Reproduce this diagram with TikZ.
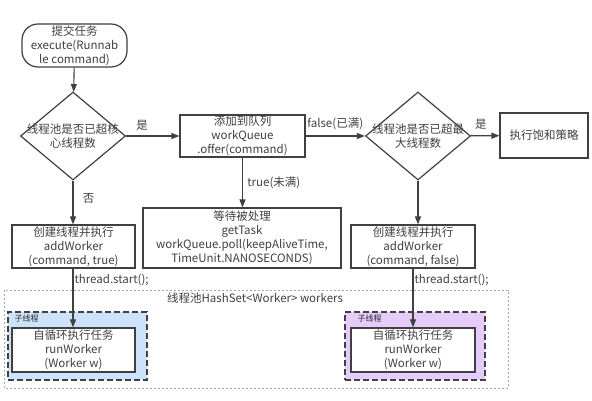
\documentclass[tikz,border=0pt]{standalone}
\usepackage{fontspec}
\setmainfont{Noto Sans CJK SC}
\usetikzlibrary{shapes.geometric,arrows.meta}

\definecolor{linegray}{HTML}{404040}
\definecolor{subblue}{HTML}{CCE3FB}
\definecolor{subpurple}{HTML}{E5CCFA}

\tikzset{
  box/.style={draw=linegray, line width=1.2pt, fill=white, align=center, inner sep=0pt},
  decision/.style={diamond, draw=linegray, line width=1.2pt, fill=white, inner sep=0pt},
  flow/.style={-{Triangle[length=8pt,width=6pt]}, draw=linegray, line width=1.1pt},
  group/.style={draw=linegray, dash pattern=on 6pt off 3pt, line width=1.7pt, inner sep=0pt},
  small/.style={font=\fontsize{8}{9}\selectfont, text=black!85}
}

\begin{document}
\begin{tikzpicture}[x=1pt,y=-1pt, font=\fontsize{11.5}{14}\selectfont, text=black!75]
\useasboundingbox (0,0) rectangle (592,401);

% thread pool set
\draw[draw=gray!70, dash pattern=on 2pt off 2pt, line width=0.8pt] (4,290) rectangle (508,388);
\node (pool) at (255,298) {线程池HashSet<Worker> workers};

% sub threads
\node[group, fill=subblue, minimum width=139pt, minimum height=68pt] (grp1) at (77.5,346) {};
\node[small, anchor=west] at (11,318) {子线程};
\node[group, fill=subpurple, minimum width=140pt, minimum height=68pt] (grp2) at (415,346) {};
\node[small, anchor=west] at (354,318) {子线程};

% main flow
\node[box, rounded corners=16pt, minimum width=105pt, minimum height=43pt] (submit) at (74.5,45.5)
  {提交任务\\execute(Runnab\\le command)};
\node[decision, minimum width=105pt, minimum height=88pt,
  label={[align=center]center:线程池是否已超核\\心线程数}] (core) at (73,136) {};
\node[box, minimum width=125pt, minimum height=42pt] (queue) at (242.5,136)
  {添加到队列\\workQueue\\.offer(command)};
\node[decision, minimum width=105pt, minimum height=88pt,
  label={[align=center]center:线程池是否已超最\\大线程数}] (max) at (418,136) {};
\node[box, minimum width=88pt, minimum height=45pt] (reject) at (544,135.5) {执行饱和策略};
\node[box, minimum width=198pt, minimum height=60pt] (wait) at (242,238)
  {等待被处理\\getTask\\workQueue.poll(keepAliveTime,\\TimeUnit.NANOSECONDS)};
\node[box, minimum width=123pt, minimum height=43pt] (add1) at (73.5,246.5)
  {创建线程并执行\\addWorker\\(command, true)};
\node[box, minimum width=124pt, minimum height=43pt] (add2) at (413,246.5)
  {创建线程并执行\\addWorker\\(command, false)};
\node[box, minimum width=123pt, minimum height=44pt] (run1) at (73.5,350)
  {自循环执行任务\\runWorker\\(Worker w)};
\node[box, minimum width=124pt, minimum height=44pt] (run2) at (413,350)
  {自循环执行任务\\runWorker\\(Worker w)};

% connectors
\draw[flow] (submit) -- (core);
\draw[flow] (core) -- (queue) node[pos=0.3, above=2pt] {是};
\draw[flow] (core) -- (core.south |- add1.north) node[pos=0.4, right=6pt] {否};
\draw[flow] (queue) -- (max) node[midway, above=2pt] {false(已满)};
\draw[flow] (queue) -- (queue.south |- wait.north) node[midway, right=1pt] {true(未满)};
\draw[flow] (max) -- (reject) node[pos=0.35, above=2pt] {是};
\draw[flow] (max) -- (max.south |- add2.north);
\draw[flow] (add1.south -| core.south) -- (run1.north -| core.south)
  node[pos=0.2, anchor=west, inner sep=1pt] {thread.start();};
\draw[flow] (add2.south) -- (run2.north)
  node[pos=0.2, anchor=west, inner sep=1pt] {thread.start();};

\end{tikzpicture}
\end{document}
